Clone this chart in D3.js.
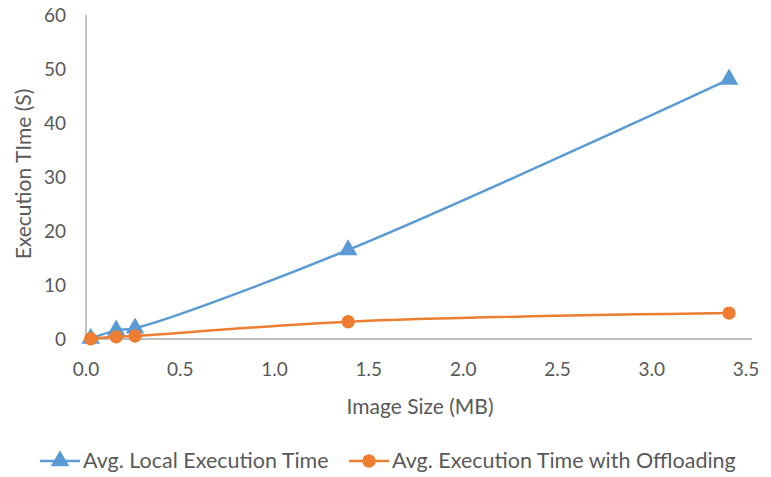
<!DOCTYPE html>
<html>
<head>
<meta charset="utf-8">
<script src="https://cdn.jsdelivr.net/npm/d3@7"></script>
<style>
  body { margin: 0; background: #fff; }
  text { font-family: Lato, "Open Sans", sans-serif; fill: #595959; }
</style>
</head>
<body>
<div id="chart"></div>
<script>
const sizes = [0.025, 0.16, 0.26, 1.39, 3.41]
const localTime = [0.1, 1.6, 2.0, 16.5, 48.1]
const offloadTime = [0.05, 0.4, 0.55, 3.2, 4.8]
const xTicks = [0, 0.5, 1, 1.5, 2, 2.5, 3, 3.5]
const yTicks = [0, 10, 20, 30, 40, 50, 60]

const width = 771, height = 477
const blue = '#5B9BD5', orange = '#ED7D31', axisCol = '#BFBFBF'

const svg = d3.select('#chart').append('svg')
  .attr('width', width)
  .attr('height', height)

const x = d3.scaleLinear().domain([0, 3.5]).range([86, 746])
const y = d3.scaleLinear().domain([0, 60]).range([339, 15])

// axes lines
svg.append('line')
  .attr('x1', x(0)).attr('x2', x(3.5) + 6)
  .attr('y1', y(0)).attr('y2', y(0))
  .attr('stroke', axisCol).attr('stroke-width', 2)
svg.append('line')
  .attr('x1', x(0)).attr('x2', x(0))
  .attr('y1', y(60)).attr('y2', y(0))
  .attr('stroke', axisCol).attr('stroke-width', 2)

svg.selectAll('.xt').data(xTicks).enter().append('text')
  .attr('x', d => x(d)).attr('y', 376)
  .attr('text-anchor', 'middle')
  .style('font-size', '19px')
  .text(d => d.toFixed(1))

svg.selectAll('.yt').data(yTicks).enter().append('text')
  .attr('x', 66).attr('y', d => y(d) + 7)
  .attr('text-anchor', 'end')
  .style('font-size', '19px')
  .text(d => d)

svg.append('text')
  .attr('x', 420).attr('y', 414)
  .attr('text-anchor', 'middle')
  .style('font-size', '21px')
  .text('Image Size (MB)')

svg.append('text')
  .attr('transform', 'translate(31,174) rotate(-90)')
  .attr('text-anchor', 'middle')
  .style('font-size', '21px')
  .text('Execution TIme (S)')

const line = d3.line()
  .x(d => x(d[0])).y(d => y(d[1]))
  .curve(d3.curveCatmullRom.alpha(0.5))

const series = [
  { name: 'Avg. Local Execution Time', vals: localTime, color: blue, sym: d3.symbolTriangle, size: 150 },
  { name: 'Avg. Execution Time with Offloading', vals: offloadTime, color: orange, sym: d3.symbolCircle, size: 140 }
]

series.forEach(s => {
  const pts = sizes.map((v, i) => [v, s.vals[i]])
  svg.append('path')
    .attr('d', line(pts))
    .attr('fill', 'none')
    .attr('stroke', s.color)
    .attr('stroke-width', 2.5)
  svg.selectAll(null).data(pts).enter().append('path')
    .attr('d', d3.symbol().type(s.sym).size(s.size))
    .attr('transform', d => `translate(${x(d[0])},${y(d[1])})`)
    .attr('fill', s.color)
})

// legend
const legX = [40, 349]
series.forEach((s, i) => {
  const g = svg.append('g').attr('transform', `translate(${legX[i]},461)`)
  g.append('line').attr('x1', 0).attr('x2', 40)
    .attr('stroke', s.color).attr('stroke-width', 2.5)
  g.append('path')
    .attr('d', d3.symbol().type(s.sym).size(s.size))
    .attr('transform', 'translate(20,0)')
    .attr('fill', s.color)
  g.append('text').attr('x', 43).attr('y', 7)
    .style('font-size', '21.5px')
    .text(s.name)
})
</script>
</body>
</html>
